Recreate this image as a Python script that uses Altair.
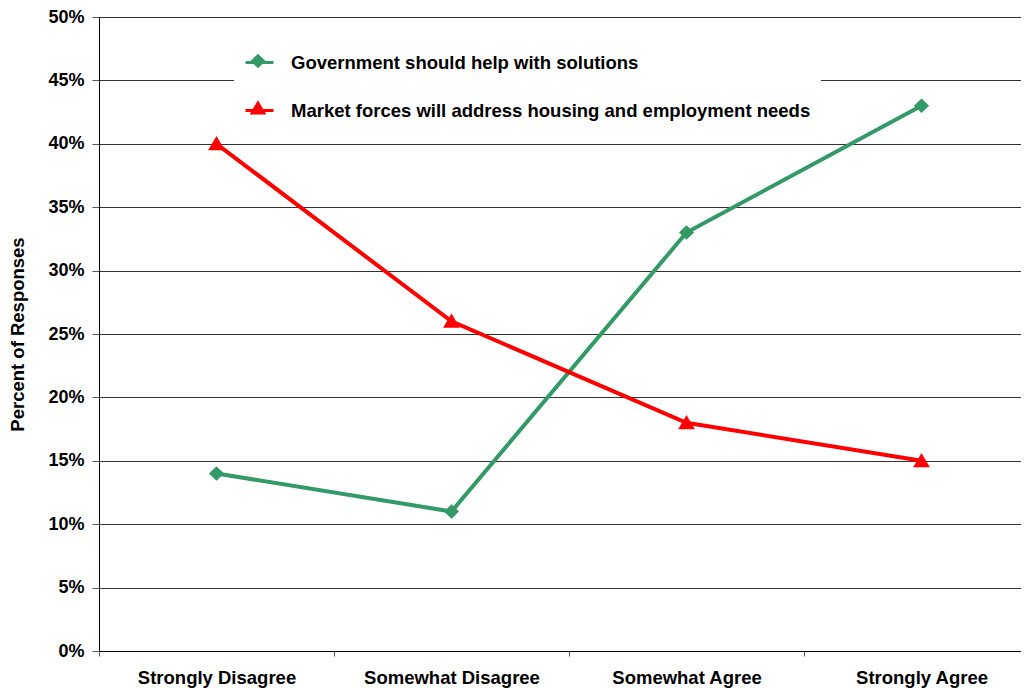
import altair as alt
import pandas as pd

categories = ["Strongly Disagree", "Somewhat Disagree", "Somewhat Agree", "Strongly Agree"]
series_names = ["Government should help with solutions",
                "Market forces will address housing and employment needs"]
gov_values = [0.14, 0.11, 0.33, 0.43]
market_values = [0.40, 0.26, 0.18, 0.15]
y_ticks = [0.0, 0.05, 0.10, 0.15, 0.20, 0.25, 0.30, 0.35, 0.40, 0.45, 0.50]

colors = ["#339966", "#FF0000"]
marker_paths = [
    "M0,-0.52L0.54,0L0,0.52L-0.54,0Z",
    "M0,-0.56L0.6,0.46L-0.6,0.46Z",
]

rows = []
for c, v in zip(categories, gov_values):
    rows.append({"category": c, "series": series_names[0], "value": v})
for c, v in zip(categories, market_values):
    rows.append({"category": c, "series": series_names[1], "value": v})
df = pd.DataFrame(rows)

FONT = "Liberation Sans"

x_enc = alt.X("category:N", sort=categories, title=None,
              scale=alt.Scale(paddingInner=0, paddingOuter=0, range=[0, 940]),
              axis=alt.Axis(tickBand="extent", labelAngle=0, labelFont=FONT,
                            labelFontSize=18.5, labelFontWeight="bold", labelColor="black",
                            labelPadding=12, tickSize=5, tickColor="#555555",
                            domainColor="black", domainWidth=1, grid=False,
                            labelLimit=400))
y_enc = alt.Y("value:Q", title="Percent of Responses",
              scale=alt.Scale(domain=[0, 0.5], nice=False, zero=True),
              axis=alt.Axis(values=y_ticks, format=".0%", labelFont=FONT,
                            labelFontSize=18, labelFontWeight="bold", labelColor="black",
                            labelPadding=8, tickSize=7, tickColor="#555555",
                            domainColor="black", domainWidth=1,
                            grid=True, gridColor="#333333", gridWidth=1,
                            titleFont=FONT, titleFontSize=18.5, titleFontWeight="bold",
                            titleColor="black", titlePadding=20))

base = alt.Chart(df)

common = dict(title=None, orient="none", legendX=135, legendY=20, padding=10,
              symbolSize=784, symbolOpacity=1,
              labelFont=FONT, labelFontSize=18.5, labelFontWeight="bold",
              labelColor="black", labelLimit=1000, labelOffset=16, rowPadding=23)

leg_lines = alt.Legend(fillColor="white", symbolStrokeWidth=3, **common)
leg_marks = alt.Legend(symbolStrokeWidth=0, labelOpacity=0, labelExpr="''", **common)

lines = base.mark_line(strokeWidth=4).encode(
    x=x_enc, y=y_enc,
    color=alt.Color("series:N", scale=alt.Scale(domain=series_names, range=colors), legend=leg_lines),
)

points = base.mark_point(filled=True, opacity=1, strokeWidth=0, size=784).encode(
    x=x_enc, y=y_enc,
    fill=alt.Fill("series:N", scale=alt.Scale(range=colors), legend=leg_marks),
    shape=alt.Shape("series:N", scale=alt.Scale(range=marker_paths), legend=leg_marks),
)

chart = alt.layer(lines, points).properties(
    width=922, height=634,
    autosize=alt.AutoSizeParams(type="none"),
    padding={"left": 91, "top": 9, "right": 0, "bottom": 40},
).configure_view(stroke=None).configure(background="white")

chart.save("out.html", embed_options={"renderer": "svg", "actions": False})
